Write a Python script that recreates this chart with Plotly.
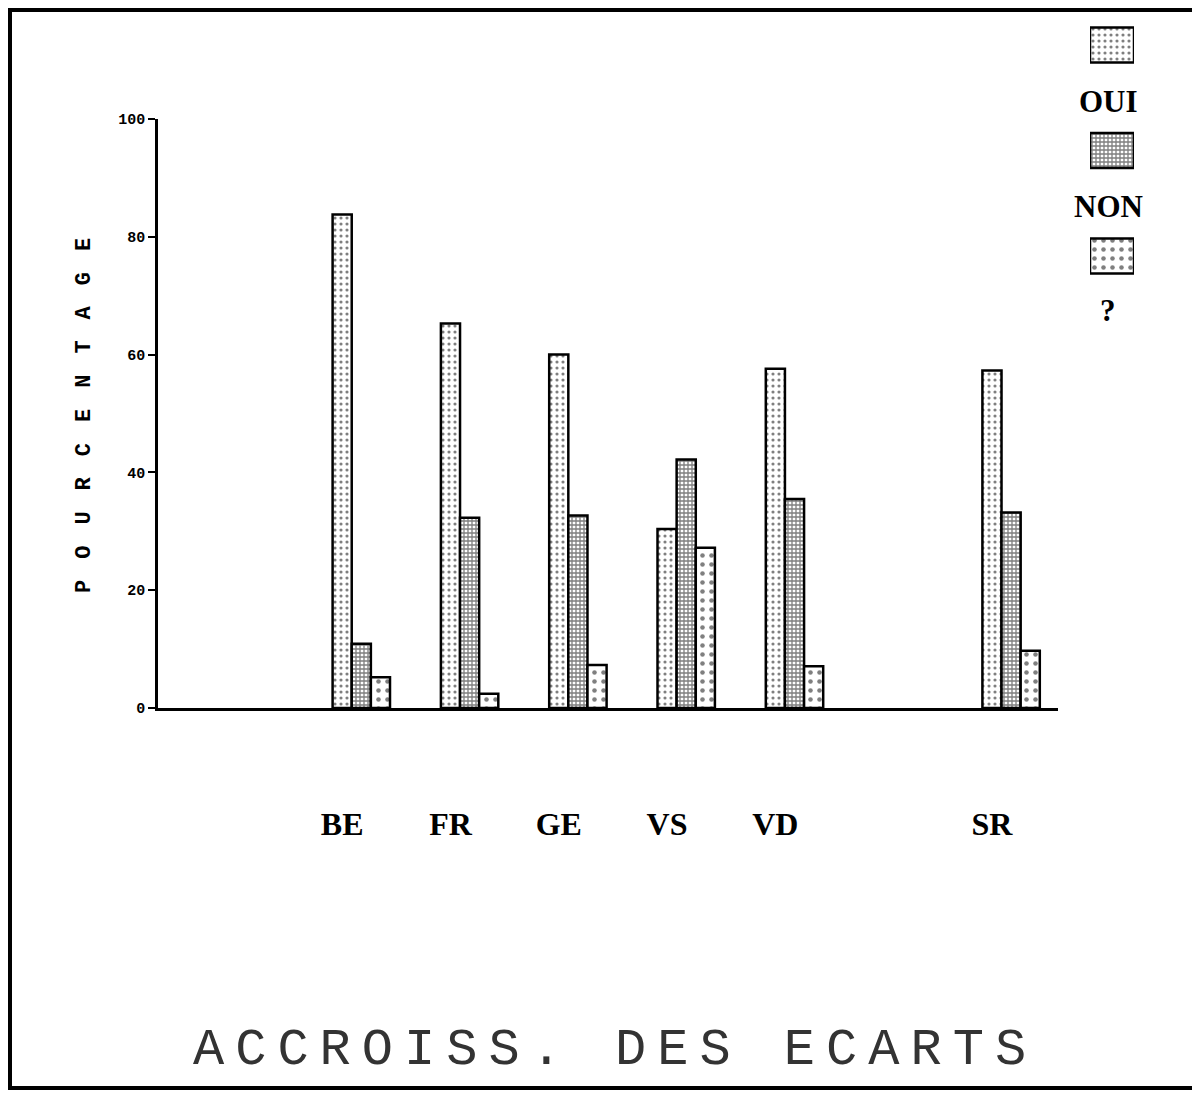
import plotly.graph_objects as go

# ---------------- data ----------------
categories = ["BE", "FR", "GE", "VS", "VD", "SR"]
slots = [1, 2, 3, 4, 5, 7]          # category slot on the x axis (gap before SR)
oui = [83.8, 65.3, 60.0, 30.4, 57.6, 57.3]
non = [10.9, 32.3, 32.7, 42.2, 35.5, 33.2]
nsp = [5.2, 2.4, 7.3, 27.2, 7.1, 9.7]
series_names = ["OUI", "NON", "?"]
y_ticks = [0, 20, 40, 60, 80, 100]
title_text = "ACCROISS. DES ECARTS"
y_title = "POURCENTAGE"

# ---------------- layout helpers ----------------
OFF = 8                      # default page body margin
W, H = 1200 - OFF, 1093 - OFF
def px(x):
    return (x - OFF) / W
def py(y):
    return 1 - (y - OFF) / H

GROUP = 0.53
BARW = GROUP / 3

patterns = [
    dict(shape=".", size=6, solidity=0.22, fgcolor="black", bgcolor="white", fillmode="overlay"),
    dict(shape="+", size=4, solidity=0.55, fgcolor="black", bgcolor="white", fillmode="overlay"),
    dict(shape=".", size=9, solidity=0.2, fgcolor="black", bgcolor="white", fillmode="overlay"),
]

fig = go.Figure()
for name, vals, pat in zip(series_names, [oui, non, nsp], patterns):
    fig.add_trace(go.Bar(
        x=slots, y=vals, name=name,
        marker=dict(color="white", pattern=pat, line=dict(color="black", width=2.5)),
        showlegend=False,
    ))

# custom legend swatches (drawn as bars in a small corner subplot)
for i, (name, pat) in enumerate(zip(series_names, patterns)):
    fig.add_trace(go.Bar(
        x=[1], y=[i], base=0, orientation="h", width=0.33, offsetgroup="leg",
        name=name, xaxis="x2", yaxis="y2", showlegend=False,
        marker=dict(color="white", pattern=pat, line=dict(color="black", width=2.5)),
    ))

annotations = []
legend_label_y = [101, 206, 311]
for name, yy in zip(series_names, legend_label_y):
    annotations.append(dict(
        text=name, xref="paper", yref="paper", x=px(1108), y=py(yy),
        showarrow=False, xanchor="center", yanchor="middle",
        font=dict(family="Liberation Serif", size=31, color="black", weight="bold"),
    ))

annotations.append(dict(
    text=f'<span style="letter-spacing:21px">{y_title}</span>',
    xref="paper", yref="paper", x=px(84), y=py(405), textangle=-90,
    showarrow=False, xanchor="center", yanchor="middle",
    font=dict(family="Liberation Mono", size=22, color="black", weight="bold"),
))

annotations.append(dict(
    text=f'<span style="letter-spacing:11px">{title_text}</span>',
    xref="paper", yref="paper", x=px(615), y=py(1050),
    showarrow=False, xanchor="center", yanchor="middle",
    font=dict(family="Liberation Mono", size=52, color="#333"),
))

x_lo = (158 - 253) / 108.3
x_hi = (1058 - 253) / 108.3

fig.update_layout(
    width=W, height=H,
    margin=dict(l=0, r=0, t=0, b=0),
    paper_bgcolor="white", plot_bgcolor="white",
    barmode="group", bargap=1 - GROUP, bargroupgap=0,
    xaxis=dict(
        domain=[px(158), px(1058)], range=[x_lo, x_hi],
        tickvals=[s - GROUP / 2 + BARW / 2 for s in slots], ticktext=categories,
        ticks="", showline=True, linecolor="black", linewidth=2.5,
        showgrid=False, zeroline=False, automargin=False,
        ticklabelstandoff=86,
        tickfont=dict(family="Liberation Serif", size=32, color="black", weight="bold"),
    ),
    yaxis=dict(
        domain=[py(708), py(119)], range=[0, 100],
        tickvals=y_ticks, ticks="outside", ticklen=7, tickwidth=2, tickcolor="black",
        showline=True, linecolor="black", linewidth=2.5,
        showgrid=False, zeroline=False, automargin=False,
        tickfont=dict(family="Liberation Mono", size=15, color="black", weight="bold"),
    ),
    xaxis2=dict(domain=[px(1090), px(1134)], range=[0, 1], visible=False, anchor="y2"),
    yaxis2=dict(domain=[py(290), py(20)], range=[2.322, -0.237], visible=False, anchor="x2"),
    annotations=annotations,
    shapes=[dict(type="rect", xref="paper", yref="paper",
                 x0=px(10), x1=px(1196), y0=py(1088), y1=py(10),
                 line=dict(color="black", width=4))],
)

fig.write_html("out.html")
